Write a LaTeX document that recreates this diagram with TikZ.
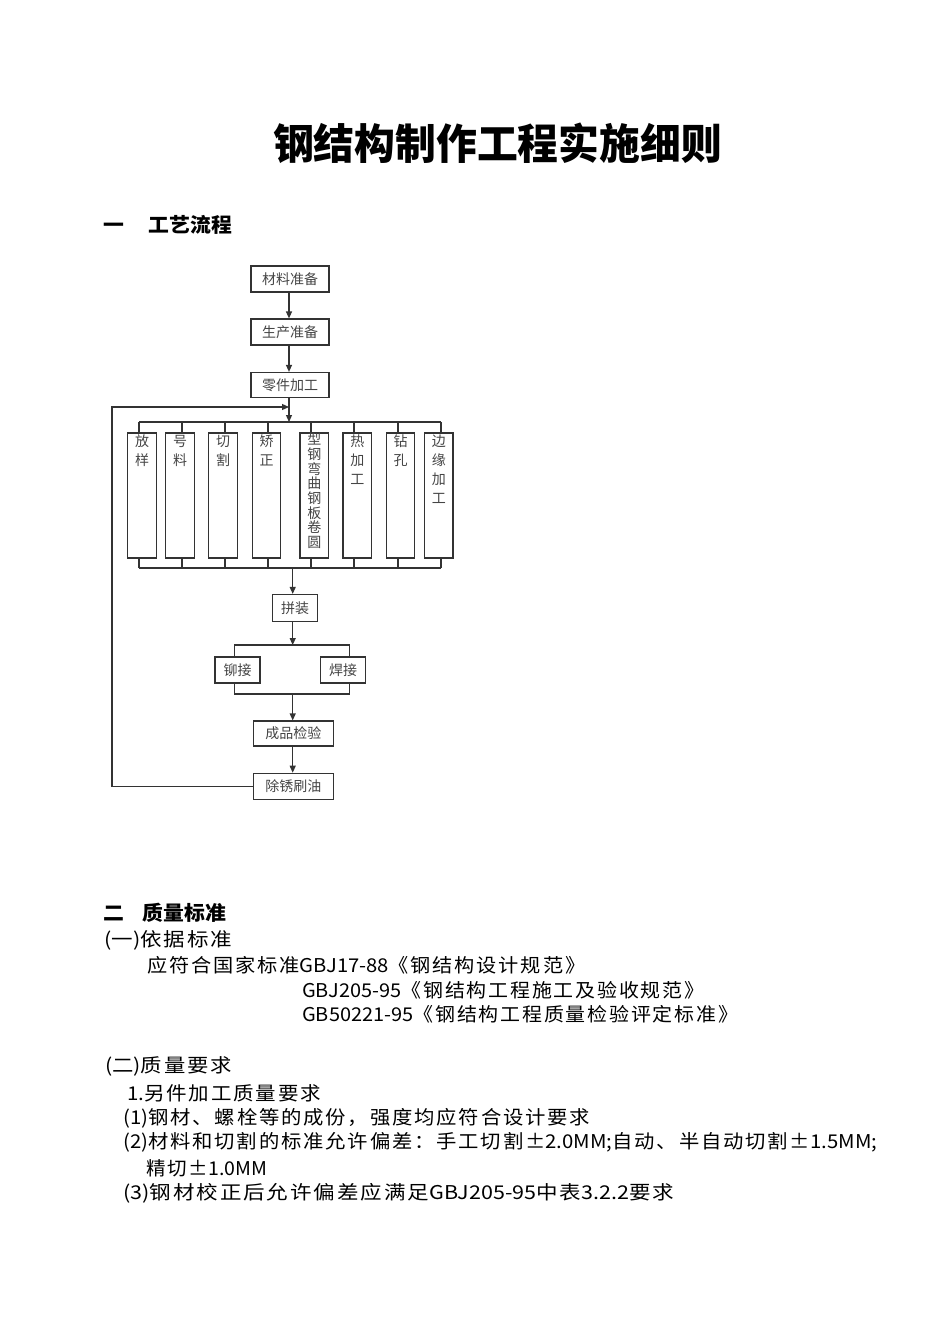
\documentclass[tikz,border=0pt]{standalone}
\usepackage{fontspec}
\usepackage{graphicx}
\setmainfont{Noto Sans CJK SC}
\newfontfamily\bodyfont[LetterSpace=9]{Noto Sans CJK SC}
\newfontfamily\latfont{Noto Sans CJK SC}
\usetikzlibrary{arrows.meta}
\definecolor{lc}{HTML}{333333}
\definecolor{tc}{HTML}{454545}
\newcommand{\fw}[2]{\resizebox{#1}{\height}{#2}}
\newcommand{\lt}[1]{{\latfont #1}}
\newcommand{\colt}[1]{\parbox[c][125pt][t]{28.5pt}{\centering\fontsize{14}{19}\selectfont\vspace*{2pt}#1}}
\newcommand{\colw}[1]{\parbox[c][125pt][t]{28.5pt}{\centering\fontsize{14}{14.7}\selectfont #1}}
\begin{document}
\begin{tikzpicture}[x=1pt,y=-1pt,
  box/.style={draw=lc,line width=1.2pt,inner sep=0pt,font=\fontsize{14}{14}\selectfont,text=tc},
  ln/.style={draw=lc,line width=1.2pt},
  arr/.style={ln,-{Triangle[length=7pt,width=6pt]}},
  txt/.style={anchor=west,inner sep=0pt,font=\bodyfont\fontsize{19}{19}\selectfont},
  head/.style={anchor=west,inner sep=0pt,font=\fontsize{20}{20}\selectfont\bfseries}]
\useasboundingbox[fill=white] (0,0) rectangle (950,1344);

% title
\node[inner sep=0pt,font=\fontsize{42}{42}\selectfont\bfseries] (title) at (497.5,143) {\fw{449pt}{钢结构制作工程实施细则}};

% headings
\node[head] (h1) at (103,225) {\fw{129pt}{一\hspace{24pt}工艺流程}};
\node[head] (h2) at (103,913) {\fw{123pt}{二\hspace{18pt}质量标准}};

% flow boxes
\node[box,minimum width=78pt,minimum height=26pt] (p1) at (290,279) {材料准备};
\node[box,minimum width=78pt,minimum height=26pt] (p2) at (290,332) {生产准备};
\node[box,minimum width=78pt,minimum height=25pt] (p3) at (290,385) {零件加工};

\node[box] (b1) at (142,495.5) {\colt{放\\样}};
\node[box] (b2) at (180,495.5) {\colt{号\\料}};
\node[box] (b3) at (223,495.5) {\colt{切\\割}};
\node[box] (b4) at (266.5,495.5) {\colt{矫\\正}};
\node[box] (b5) at (314.3,495.5) {\colw{型\\钢\\弯\\曲\\钢\\板\\卷\\圆}};
\node[box] (b6) at (357.3,495.5) {\colt{热\\加\\工}};
\node[box] (b7) at (400.5,495.5) {\colt{钻\\孔}};
\node[box] (b8) at (438.8,495.5) {\colt{边\\缘\\加\\工}};

\node[box,minimum width=45pt,minimum height=27pt] (p4) at (295,608) {拼装};
\node[box,minimum width=45pt,minimum height=26pt] (p5) at (237.5,670) {铆接};
\node[box,minimum width=45pt,minimum height=26pt] (p6) at (343.2,670) {焊接};
\node[box,minimum width=80pt,minimum height=25pt] (p7) at (293.3,733.5) {成品检验};
\node[box,minimum width=80pt,minimum height=26pt] (p8) at (293.3,786.3) {除锈刷油};

% coordinates
\coordinate (s1) at (139,422);
\coordinate (s2) at (182,422);
\coordinate (s3) at (225,422);
\coordinate (s4) at (268,422);
\coordinate (s5) at (311,422);
\coordinate (s6) at (354,422);
\coordinate (s7) at (398,422);
\coordinate (s8) at (441,422);
\coordinate (t1) at (139,568);
\coordinate (t2) at (182,568);
\coordinate (t3) at (225,568);
\coordinate (t4) at (268,568);
\coordinate (t5) at (311,568);
\coordinate (t6) at (354,568);
\coordinate (t7) at (398,568);
\coordinate (t8) at (441,568);
\coordinate (tin) at (289,422);
\coordinate (bout) at (292.7,568);
\coordinate (sp) at (292.7,645);
\coordinate (spL) at (234.3,645);
\coordinate (spR) at (349.3,645);
\coordinate (mg) at (292.7,694);
\coordinate (mgL) at (234.3,694);
\coordinate (mgR) at (349.3,694);
\coordinate (loopTop) at (112,407);
\coordinate (join) at (289,407);

% connectors
\draw[arr] (p1.south -| tin) -- (p2.north -| tin);
\draw[arr] (p2.south -| tin) -- (p3.north -| tin);
\draw[arr] (p3.south -| tin) -- (tin);
\draw[ln] (s1) -- (s8);
\draw[ln] (t1) -- (t8);
\foreach \i in {1,...,8} {
  \draw[ln] (s\i) -- (s\i |- b\i.north);
  \draw[ln] (t\i) -- (t\i |- b\i.south);
}
\draw[arr] (bout) -- (p4.north -| bout);
\draw[arr] (p4.south -| sp) -- (sp);
\draw[ln] (p5.north -| spL) -- (spL) -- (spR) -- (p6.north -| spR);
\draw[ln] (p5.south -| mgL) -- (mgL) -- (mgR) -- (p6.south -| mgR);
\draw[arr] (mg) -- (p7.north -| mg);
\draw[arr] (p7.south -| mg) -- (p8.north -| mg);
\draw[arr] (p8.west) -| (loopTop) -- (join);

% body text
\node[txt] (l1) at (104,940) {\fw{128pt}{\lt{(}一\lt{)}依据标准}};
\node[txt] (l2) at (147,965) {\fw{438pt}{应符合国家标准\lt{GBJ17-88}《钢结构设计规范》}};
\node[txt] (l3) at (302,990) {\fw{402pt}{\lt{GBJ205-95}《钢结构工程施工及验收规范》}};
\node[txt] (l4) at (302,1014) {\fw{436pt}{\lt{GB50221-95}《钢结构工程质量检验评定标准》}};
\node[txt] (l5) at (105,1066) {\fw{127pt}{\lt{(}二\lt{)}质量要求}};
\node[txt] (l6) at (127,1093) {\fw{194pt}{\lt{1.}另件加工质量要求}};
\node[txt] (l7) at (123,1118) {\fw{467pt}{\lt{(1)}钢材、螺栓等的成份，强度均应符合设计要求}};
\node[txt] (l8) at (123,1142) {\fw{754pt}{\lt{(2)}材料和切割的标准允许偏差：手工切割±\lt{2.0MM;}自动、半自动切割±\lt{1.5MM;}}};
\node[txt] (l9) at (146,1168) {\fw{121pt}{精切±\lt{1.0MM}}};
\node[txt] (l10) at (123,1193) {\fw{551pt}{\lt{(3)}钢材校正后允许偏差应满足\lt{GBJ205-95}中表\lt{3.2.2}要求}};
\end{tikzpicture}
\end{document}
